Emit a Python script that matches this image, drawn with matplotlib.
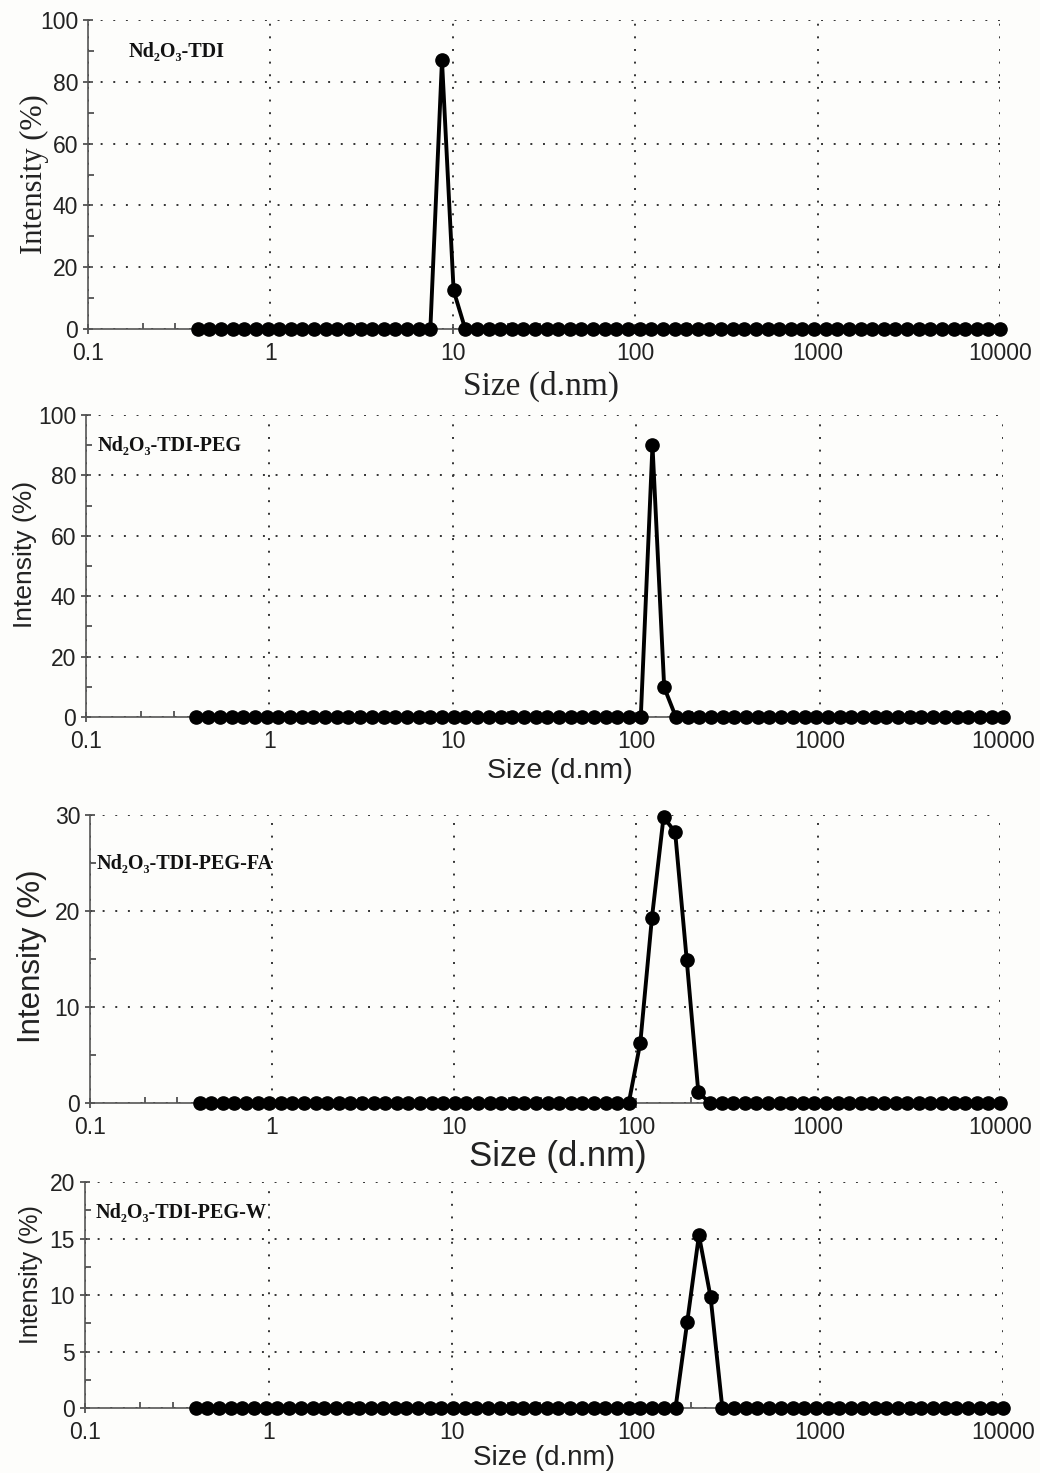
import matplotlib
matplotlib.use("Agg")
import matplotlib.pyplot as plt
from matplotlib.ticker import FixedLocator, NullFormatter

# Zetasizer size bins (d.nm)
sizes = [0.4, 0.4632, 0.5365, 0.6213, 0.7195, 0.8332, 0.9649, 1.117, 1.294, 1.499,
         1.736, 2.010, 2.328, 2.696, 3.122, 3.615, 4.187, 4.849, 5.615, 6.503,
         7.531, 8.721, 10.10, 11.70, 13.54, 15.69, 18.17, 21.04, 24.36, 28.21,
         32.67, 37.84, 43.82, 50.75, 58.77, 68.06, 78.82, 91.28, 105.7, 122.4,
         141.8, 164.2, 190.1, 220.2, 255.0, 295.3, 342.0, 396.1, 458.7, 531.2,
         615.1, 712.4, 825.0, 955.4, 1106, 1281, 1484, 1718, 1990, 2305,
         2669, 3091, 3580, 4145, 4801, 5560, 6439, 7456, 8635, 10000]

# non-zero intensity bins (%) for each sample, every other bin is 0
tdi_sizes = [8.721, 10.10]
tdi_vals = [87.0, 12.5]
peg_sizes = [122.4, 141.8]
peg_vals = [90.0, 9.8]
fa_sizes = [105.7, 122.4, 141.8, 164.2, 190.1, 220.2]
fa_vals = [6.3, 19.3, 29.8, 28.2, 14.9, 1.1]
w_sizes = [190.1, 220.2, 255.0]
w_vals = [7.6, 15.3, 9.8]

labels = ["Nd\u2082O\u2083-TDI", "Nd\u2082O\u2083-TDI-PEG",
          "Nd\u2082O\u2083-TDI-PEG-FA", "Nd\u2082O\u2083-TDI-PEG-W"]
ymax = [100, 100, 30, 20]
ymajor = [20, 20, 10, 5]
yminor = [10, 10, 5, 2.5]


def full(bins, vals):
    lookup = dict(zip(bins, vals))
    return [lookup.get(s, 0.0) for s in sizes]


series = [full(tdi_sizes, tdi_vals), full(peg_sizes, peg_vals),
          full(fa_sizes, fa_vals), full(w_sizes, w_vals)]

# per-panel layout
boxes = [[0.0846, 0.7766, 0.877, 0.2098],
         [0.0827, 0.5132, 0.882, 0.2050],
         [0.0865, 0.2512, 0.875, 0.1955],
         [0.0817, 0.0441, 0.883, 0.1534]]
lab_pos = [(0.044, 0.895), (0.013, 0.897), (0.007, 0.83), (0.012, 0.863)]
ylab_style = [("Liberation Serif", 22, -0.043, 0.50),
              ("Liberation Sans", 19, -0.053, 0.54),
              ("Liberation Sans", 22.5, -0.047, 0.51),
              ("Liberation Sans", 18, -0.046, 0.59)]
xlab_style = [("Liberation Serif", 24, 0.497, -0.135),
              ("Liberation Sans", 20.5, 0.517, -0.135),
              ("Liberation Sans", 25, 0.514, -0.128),
              ("Liberation Sans", 20, 0.50, -0.165)]

fig = plt.figure(figsize=(10.4, 14.73), dpi=100)
fig.patch.set_facecolor("#fdfdfb")

for i in range(4):
    ax = fig.add_axes(boxes[i])
    ax.set_facecolor("none")
    ax.set_xscale("log")
    ax.set_xlim(0.1, 10000)
    ax.set_ylim(0, ymax[i])

    ax.plot(sizes, series[i], color="black", lw=2.8, marker="o", ms=9.5,
            solid_joinstyle="round", zorder=3, clip_on=False)

    ax.xaxis.set_major_locator(FixedLocator([0.1, 1, 10, 100, 1000, 10000]))
    ax.xaxis.set_minor_locator(FixedLocator([0.2, 0.3, 2, 3, 20, 30, 200, 300, 2000, 3000]))
    ax.xaxis.set_minor_formatter(NullFormatter())
    ax.set_xticklabels(["0.1", "1", "10", "100", "1000", "10000"])
    yt = [ymajor[i] * k for k in range(int(ymax[i] / ymajor[i]) + 1)]
    ax.set_yticks(yt)
    ax.set_yticklabels([str(int(v)) for v in yt])
    ym = []
    v = 0.0
    while v < ymax[i]:
        ym.append(v)
        v += yminor[i]
    ax.yaxis.set_minor_locator(FixedLocator(ym))

    ax.grid(True, which="major", linestyle=(0, (1, 5.5)), color="#333333", lw=1.4)
    for s in ["top", "right"]:
        ax.spines[s].set_visible(False)
    for s in ["left", "bottom"]:
        ax.spines[s].set_color("#555555")
        ax.spines[s].set_linewidth(1.2)
    ax.tick_params(which="major", direction="inout", length=7, width=1.2,
                   color="#444444", labelsize=16.5, labelcolor="#222222")
    ax.tick_params(which="minor", direction="in", length=4, width=1.2, color="#444444")
    ax.tick_params(axis="x", which="major", pad=6)
    for t in ax.get_xticklabels() + ax.get_yticklabels():
        t.set_family("Liberation Sans")

    fam, fs, lx, ly = ylab_style[i]
    ax.set_ylabel("Intensity (%)", family=fam, fontsize=fs, color="#222222")
    ax.yaxis.set_label_coords(lx, ly)
    fam, fs, lx, ly = xlab_style[i]
    ax.set_xlabel("Size (d.nm)", family=fam, fontsize=fs, color="#222222")
    ax.xaxis.set_label_coords(lx, ly)

    ax.text(lab_pos[i][0], lab_pos[i][1], labels[i], transform=ax.transAxes,
            family=["Liberation Serif", "DejaVu Serif"], fontweight="bold",
            fontsize=14.5, va="center", ha="left", color="#111111")

fig.savefig("out.png", dpi=100, facecolor=fig.get_facecolor())
